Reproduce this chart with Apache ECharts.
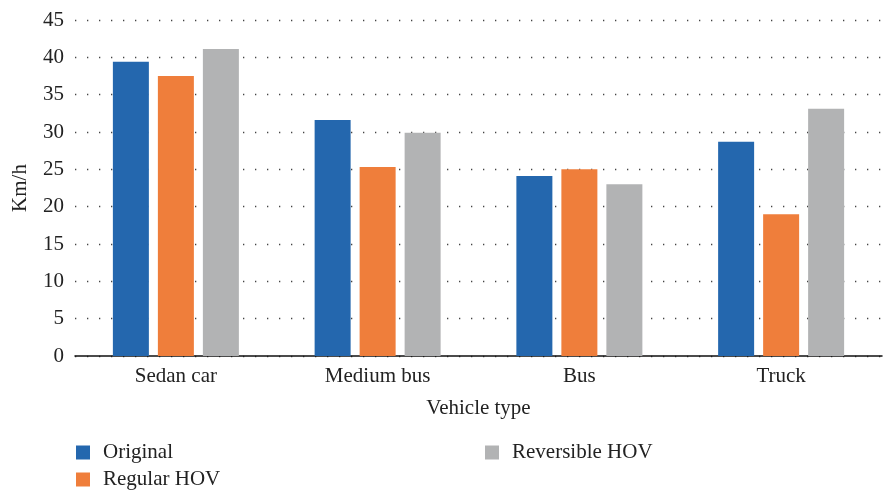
<!DOCTYPE html>
<html>
<head>
<meta charset="utf-8">
<script src="https://cdn.jsdelivr.net/npm/echarts@6/dist/echarts.min.js"></script>
<style>
  html, body { margin: 0; padding: 0; background: #fff; }
  #chart { width: 883px; height: 491px; }
</style>
</head>
<body>
<div id="chart"></div>
<script>
// data
var categories = ['Sedan car', 'Medium bus', 'Bus', 'Truck'];
var original = [39.4, 31.6, 24.1, 28.7];
var regularHOV = [37.5, 25.3, 25.0, 19.0];
var reversibleHOV = [41.1, 29.9, 23.0, 33.1];

var font = 'Liberation Serif';
var txt = { fontFamily: font, fontSize: 21, color: '#222' };

function legendAt(name, left, top) {
  return {
    left: left, top: top,
    icon: 'rect',
    itemWidth: 14, itemHeight: 14,
    textStyle: Object.assign({ padding: [0, 0, 0, 8] }, txt),
    data: [name]
  };
}

var chart = echarts.init(document.getElementById('chart'));

chart.setOption({
  animation: false,
  textStyle: { fontFamily: font },
  grid: { left: 75, right: 1, top: 20, bottom: 135 },
  legend: [
    legendAt('Original', 71, 437),
    legendAt('Regular HOV', 71, 464),
    legendAt('Reversible HOV', 480, 437)
  ],
  xAxis: {
    type: 'category',
    data: categories,
    name: 'Vehicle type',
    nameLocation: 'middle',
    nameGap: 42,
    nameTextStyle: txt,
    axisLine: { lineStyle: { color: '#111', width: 1.5 } },
    axisTick: { show: false },
    axisLabel: Object.assign({ margin: 10 }, txt)
  },
  yAxis: {
    type: 'value',
    min: 0, max: 45, interval: 5,
    name: 'Km/h',
    nameLocation: 'middle',
    nameGap: 44,
    nameTextStyle: txt,
    axisLine: { show: false },
    axisTick: { show: false },
    axisLabel: Object.assign({ margin: 11 }, txt),
    splitLine: { lineStyle: { color: '#444', width: 1.3, type: [1.3, 10.7] } }
  },
  series: [
    { name: 'Original', type: 'bar', data: original, barWidth: 36, barGap: '25%',
      itemStyle: { color: '#2467ae' } },
    { name: 'Regular HOV', type: 'bar', data: regularHOV, barWidth: 36, barGap: '25%',
      itemStyle: { color: '#ef7e3b' } },
    { name: 'Reversible HOV', type: 'bar', data: reversibleHOV, barWidth: 36, barGap: '25%',
      itemStyle: { color: '#b2b3b4' } }
  ]
});
</script>
</body>
</html>
